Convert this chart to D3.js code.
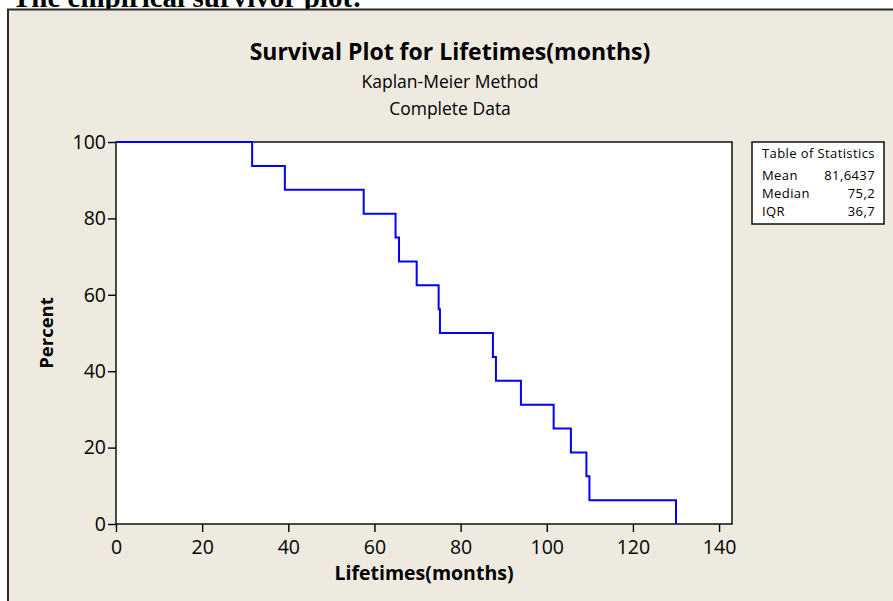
<!DOCTYPE html>
<html>
<head>
<meta charset="utf-8">
<script src="https://cdn.jsdelivr.net/npm/d3@7"></script>
<style>
  html, body { margin: 0; padding: 0; background: #fff; overflow: hidden; }
  text { font-family: 'Open Sans', 'Noto Sans', sans-serif; fill: #000; }
</style>
</head>
<body>
<div id="chart"></div>
<script>
(function () {
  'use strict';

  // failure times (months) and the survival level after each drop
  var lifetimes = [31.6, 39.2, 57.5, 64.9, 65.7, 69.8, 74.9, 75.2,
                   87.5, 88.2, 94.0, 101.6, 105.6, 109.2, 109.9, 130.0];
  var survival = [93.75, 87.5, 81.25, 75, 68.75, 62.5, 56.25, 50,
                  43.75, 37.5, 31.25, 25, 18.75, 12.5, 6.25, 0];
  var xTicks = [0, 20, 40, 60, 80, 100, 120, 140];
  var yTicks = [0, 20, 40, 60, 80, 100];
  var titleLines = ['Survival Plot for Lifetimes(months)', 'Kaplan-Meier Method', 'Complete Data'];
  var statLabels = ['Mean', 'Median', 'IQR'];
  var statValues = ['81,6437', '75,2', '36,7'];

  var width = 893,
      height = 601,
      plotLeft = 116,
      plotRight = 732,
      plotTop = 142,
      plotBottom = 524,
      titleCenter = 450,
      bg = '#eeeae0';

  var svg = d3.select('#chart')
    .append('svg')
    .attr('width', width)
    .attr('height', height);

  // heading from the surrounding document, cut off by the top edge
  svg.append('text')
    .attr('x', 12)
    .attr('y', 7)
    .style('font-family', "'Liberation Serif', serif")
    .style('font-weight', 'bold')
    .style('font-size', '29px')
    .text('The empirical survivor plot:');

  // graph window
  svg.append('rect')
    .attr('x', 8)
    .attr('y', 9.5)
    .attr('width', width + 10)
    .attr('height', height)
    .attr('fill', bg)
    .attr('stroke', '#2b2b2b')
    .attr('stroke-width', 2);

  var x = d3.scaleLinear().domain([0, 143]).range([plotLeft, plotRight]);
  var y = d3.scaleLinear().domain([0, 100]).range([plotBottom, plotTop]);

  svg.append('rect')
    .attr('x', plotLeft)
    .attr('y', plotTop)
    .attr('width', plotRight - plotLeft)
    .attr('height', plotBottom - plotTop)
    .attr('fill', '#fff')
    .attr('stroke', '#000')
    .attr('stroke-width', 1.4);

  // titles
  var title = svg.append('g').attr('class', 'titles');
  title.selectAll('text')
    .data(titleLines)
    .enter()
    .append('text')
    .attr('x', titleCenter)
    .attr('y', function (d, i) { return 60 + i * 27.5; })
    .attr('text-anchor', 'middle')
    .style('font-size', function (d, i) { return i === 0 ? '23px' : '17.5px'; })
    .style('font-weight', function (d, i) { return i === 0 ? 'bold' : 'normal'; })
    .text(function (d) { return d; });

  // axes
  var xAxis = svg.append('g')
    .attr('transform', 'translate(0,' + plotBottom + ')')
    .call(d3.axisBottom(x).tickValues(xTicks).tickSize(8).tickPadding(8).tickSizeOuter(0));

  var yAxis = svg.append('g')
    .attr('transform', 'translate(' + plotLeft + ',0)')
    .call(d3.axisLeft(y).tickValues(yTicks).tickSize(8).tickPadding(2).tickSizeOuter(0));

  [xAxis, yAxis].forEach(function (ax) {
    ax.select('.domain').remove();
    ax.selectAll('line').attr('stroke', '#000').attr('stroke-width', 1.4);
    ax.selectAll('text')
      .style('font-family', "'Open Sans', sans-serif")
      .style('font-size', '19.5px');
  });

  svg.append('text')
    .attr('x', (plotLeft + plotRight) / 2)
    .attr('y', 580)
    .attr('text-anchor', 'middle')
    .style('font-size', '19.5px')
    .style('font-weight', 'bold')
    .text('Lifetimes(months)');

  svg.append('text')
    .attr('transform', 'translate(53,' + ((plotTop + plotBottom) / 2) + ') rotate(-90)')
    .attr('text-anchor', 'middle')
    .style('font-size', '18.5px')
    .style('font-weight', 'bold')
    .text('Percent');

  // Kaplan-Meier step curve
  var points = [[0, 100]].concat(lifetimes.map(function (t, i) { return [t, survival[i]]; }));
  var line = d3.line()
    .x(function (d) { return x(d[0]); })
    .y(function (d) { return y(d[1]); })
    .curve(d3.curveStepAfter);

  svg.append('path')
    .datum(points)
    .attr('d', line)
    .attr('fill', 'none')
    .attr('stroke', '#0000ff')
    .attr('stroke-width', 2);

  // table of statistics
  var box = svg.append('g').attr('transform', 'translate(752,142)');
  box.append('rect')
    .attr('width', 132)
    .attr('height', 82)
    .attr('fill', '#fff')
    .attr('stroke', '#000')
    .attr('stroke-width', 1.4);
  box.append('text')
    .attr('x', 10)
    .attr('y', 16)
    .style('font-size', '13px')
    .style('letter-spacing', '0.4px')
    .text('Table of Statistics');
  box.selectAll('.lab')
    .data(statLabels)
    .enter()
    .append('text')
    .attr('class', 'lab')
    .attr('x', 10)
    .attr('y', function (d, i) { return 38 + i * 18; })
    .style('font-size', '13px')
    .style('letter-spacing', '0.4px')
    .text(function (d) { return d; });
  box.selectAll('.val')
    .data(statValues)
    .enter()
    .append('text')
    .attr('class', 'val')
    .attr('x', 123)
    .attr('y', function (d, i) { return 38 + i * 18; })
    .attr('text-anchor', 'end')
    .style('font-size', '13px')
    .style('letter-spacing', '0.4px')
    .text(function (d) { return d; });
}());
</script>
</body>
</html>
